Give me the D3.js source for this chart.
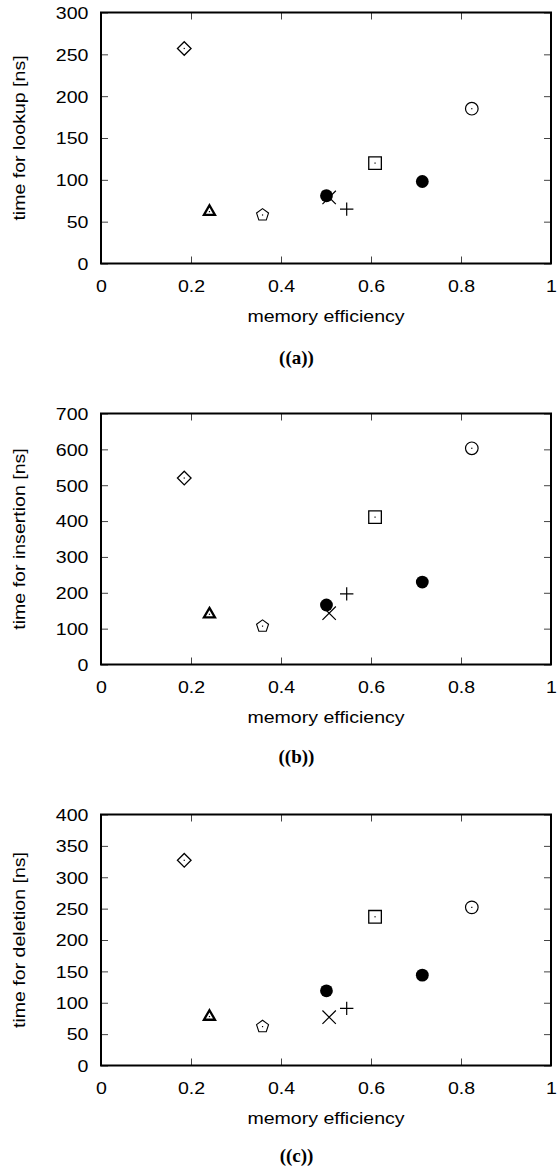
<!DOCTYPE html>
<html>
<head>
<meta charset="utf-8">
<script src="https://cdn.jsdelivr.net/npm/d3@7"></script>
<style>
  html, body { margin: 0; padding: 0; background: #fff; }
  svg { display: block; }
</style>
</head>
<body>
<div id="chart"></div>
<script>
// ---------------- DATA ----------------
const markerShapes      = ["diamond", "triangle", "pentagon", "times", "plus", "square", "ring", "disc", "disc"];
const memoryEfficiency  = [0.185, 0.241, 0.359, 0.507, 0.546, 0.609, 0.824, 0.501, 0.714];
const lookupTime        = [257, 62, 58, 79, 65, 120, 185, 81, 98];
const insertionTime     = [520, 140, 107, 143, 197, 411, 603, 166, 230];
const deletionTime      = [327, 78, 62, 77, 91, 237, 252, 119, 144];

const xTicks            = [0, 0.2, 0.4, 0.6, 0.8, 1];
const xTickLabels       = ["0", "0.2", "0.4", "0.6", "0.8", "1"];
const lookupTicks       = [0, 50, 100, 150, 200, 250, 300];
const insertionTicks    = [0, 100, 200, 300, 400, 500, 600, 700];
const deletionTicks     = [0, 50, 100, 150, 200, 250, 300, 350, 400];

const yTitles           = ["time for lookup [ns]", "time for insertion [ns]", "time for deletion [ns]"];
const captions          = ["((a))", "((b))", "((c))"];
const xTitle            = "memory efficiency";

// ---------------- LAYOUT ----------------
const W = 558, H = 1167;
const left = 101, right = 551, plotH = 251;
const panelTops = [12.5, 413.5, 814.5];
const captionBaselines = [364, 763, 1161.5];
const FS = 16.3, SX = 1.2;
const sans = "'Liberation Sans', Arial, Helvetica, sans-serif";
const serif = "'Liberation Serif', 'Times New Roman', Times, serif";

const panels = [
  { values: lookupTime,    ticks: lookupTicks },
  { values: insertionTime, ticks: insertionTicks },
  { values: deletionTime,  ticks: deletionTicks }
];

const svg = d3.select("#chart").append("svg")
  .attr("width", W).attr("height", H)
  .attr("viewBox", `0 0 ${W} ${H}`);

// custom symbol types
const sym = {
  diamond: { draw(c) { const r = 6.8; c.moveTo(0, -r); c.lineTo(r, 0); c.lineTo(0, r); c.lineTo(-r, 0); c.closePath(); } },
  triangle: { draw(c) { const s = 11, h = s * Math.sqrt(3) / 2; c.moveTo(0, -2 * h / 3); c.lineTo(s / 2, h / 3); c.lineTo(-s / 2, h / 3); c.closePath(); } },
  pentagon: { draw(c) { const R = 6.3; for (let k = 0; k < 5; k++) { const a = (-90 + 72 * k) * Math.PI / 180; const px = R * Math.cos(a), py = R * Math.sin(a); if (k === 0) c.moveTo(px, py); else c.lineTo(px, py); } c.closePath(); } },
  square: { draw(c) { const r = 6.3; c.rect(-r, -r, 2 * r, 2 * r); } },
  ring: { draw(c) { const r = 6.3; c.moveTo(r, 0); c.arc(0, 0, r, 0, 2 * Math.PI); } },
  disc: { draw(c) { const r = 6.4; c.moveTo(r, 0); c.arc(0, 0, r, 0, 2 * Math.PI); } },
  plus: { draw(c) { const r = 6.7; c.moveTo(-r, 0); c.lineTo(r, 0); c.moveTo(0, -r); c.lineTo(0, r); } },
  times: { draw(c) { const r = 6.7; c.moveTo(-r, -r); c.lineTo(r, r); c.moveTo(-r, r); c.lineTo(r, -r); } }
};
const strokeW = { diamond: 1.3, triangle: 2.3, pentagon: 1.1, square: 1.3, ring: 1.2, disc: 0, plus: 1.2, times: 1.2 };
const hasDot = { diamond: true, triangle: true, pentagon: true, square: true, ring: true };

const x = d3.scaleLinear().domain([0, 1]).range([left, right]);

panels.forEach((p, i) => {
  const top = panelTops[i], bottom = top + plotH;
  const y = d3.scaleLinear().domain([0, p.ticks[p.ticks.length - 1]]).range([bottom, top]);
  const g = svg.append("g");

  // ticks (inward, all four sides)
  const tickStyle = sel => {
    sel.select(".domain").remove();
    sel.selectAll("line").attr("stroke", "#444").attr("stroke-width", 1);
  };
  const gl = g.append("g").attr("transform", `translate(${left},0)`)
    .call(d3.axisLeft(y).tickValues(p.ticks).tickSize(-7).tickPadding(12.5).tickFormat(d3.format("d")))
    .call(tickStyle);
  gl.selectAll("text")
    .attr("font-family", sans).attr("font-size", FS).attr("fill", "#000")
    .attr("text-anchor", "end")
    .each(function () {
      d3.select(this).attr("transform", `translate(-12.5,0) scale(${SX},1)`).attr("x", 0).attr("dy", "0.36em");
    });
  gl.attr("font-size", null).attr("font-family", null);

  g.append("g").attr("transform", `translate(${right},0)`)
    .call(d3.axisRight(y).tickValues(p.ticks).tickSize(-7).tickFormat(""))
    .call(tickStyle);

  const gb = g.append("g").attr("transform", `translate(0,${bottom})`)
    .call(d3.axisBottom(x).tickValues(xTicks).tickSize(-7).tickFormat((d, k) => xTickLabels[k]))
    .call(tickStyle);
  gb.selectAll("text")
    .attr("font-family", sans).attr("font-size", FS).attr("fill", "#000")
    .attr("text-anchor", "middle")
    .each(function () {
      d3.select(this).attr("transform", `translate(0,28) scale(${SX},1)`).attr("y", 0).attr("dy", 0);
    });
  gb.attr("font-size", null).attr("font-family", null);

  g.append("g").attr("transform", `translate(0,${top})`)
    .call(d3.axisTop(x).tickValues(xTicks).tickSize(-7).tickFormat(""))
    .call(tickStyle);

  // frame
  g.append("rect")
    .attr("x", left).attr("y", top).attr("width", right - left).attr("height", plotH)
    .attr("fill", "none").attr("stroke", "#000").attr("stroke-width", 2);

  // markers
  const pts = memoryEfficiency.map((mx, k) => ({ shape: markerShapes[k], mx, my: p.values[k] }));
  const mg = g.append("g");
  pts.forEach(d => {
    const cx = x(d.mx), cy = y(d.my);
    const filled = d.shape === "disc";
    mg.append("path")
      .attr("transform", `translate(${cx},${cy})`)
      .attr("d", d3.symbol().type(sym[d.shape])())
      .attr("fill", filled ? "#000" : (d.shape === "plus" || d.shape === "times" ? "none" : "#fff"))
      .attr("stroke", filled ? "none" : "#000")
      .attr("stroke-width", strokeW[d.shape])
      .attr("stroke-linejoin", "miter");
    if (hasDot[d.shape]) {
      mg.append("rect").attr("x", cx - 0.6).attr("y", cy - 0.6).attr("width", 1.2).attr("height", 1.2).attr("fill", "#000");
    }
  });

  // axis titles
  g.append("text")
    .attr("transform", `translate(${(left + right) / 2},${bottom + 58}) scale(${SX},1)`)
    .attr("text-anchor", "middle").attr("font-family", sans).attr("font-size", FS).attr("fill", "#000")
    .text(xTitle);
  g.append("text")
    .attr("transform", `translate(25,${(top + bottom) / 2}) rotate(-90) scale(${SX},1)`)
    .attr("text-anchor", "middle").attr("font-family", sans).attr("font-size", FS).attr("fill", "#000")
    .text(yTitles[i]);
  g.append("text")
    .attr("x", 296.5).attr("y", captionBaselines[i])
    .attr("text-anchor", "middle").attr("font-family", serif).attr("font-weight", "bold")
    .attr("font-size", 19).attr("fill", "#000")
    .text(captions[i]);
});
</script>
</body>
</html>
